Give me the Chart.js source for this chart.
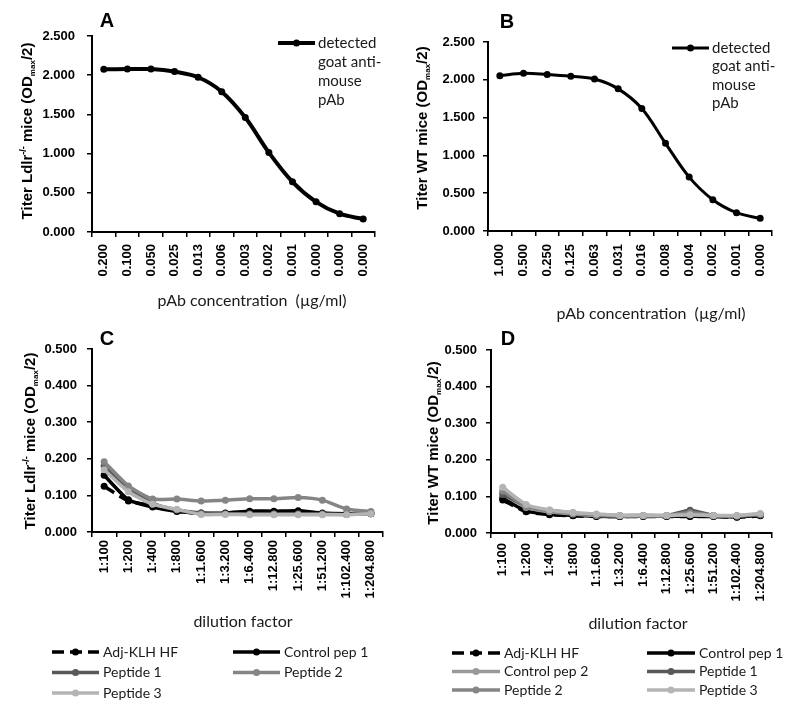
<!DOCTYPE html>
<html>
<head>
<meta charset="utf-8">
<script src="https://cdn.jsdelivr.net/npm/chart.js@4.4.1/dist/chart.umd.min.js"></script>
<style>
  body { margin: 0; background: #fff; }
  .panel { position: absolute; }
</style>
</head>
<body>
<div class="panel" style="left:0;top:0;width:400px;height:330px"><canvas id="chartA"></canvas></div>
<div class="panel" style="left:400px;top:0;width:400px;height:330px"><canvas id="chartB"></canvas></div>
<div class="panel" style="left:0;top:320px;width:400px;height:393px"><canvas id="chartC"></canvas></div>
<div class="panel" style="left:400px;top:320px;width:400px;height:393px"><canvas id="chartD"></canvas></div>
<script>
// --- data ---
const concA = ['0.200', '0.100', '0.050', '0.025', '0.013', '0.006', '0.003', '0.002', '0.001', '0.000', '0.000', '0.000'];
const concB = ['1.000', '0.500', '0.250', '0.125', '0.063', '0.031', '0.016', '0.008', '0.004', '0.002', '0.001', '0.000'];
const dilutions = ['1:100', '1:200', '1:400', '1:800', '1:1.600', '1:3.200', '1:6.400', '1:12.800', '1:25.600', '1:51.200', '1:102.400', '1:204.800'];

const titerA = [2.075, 2.078, 2.078, 2.046, 1.974, 1.79, 1.46, 1.014, 0.64, 0.385, 0.233, 0.166];
const titerB = [2.055, 2.086, 2.07, 2.046, 2.01, 1.88, 1.62, 1.16, 0.713, 0.414, 0.242, 0.167];

// panel C (Ldlr-/-)
const cAdj   = [0.125, 0.085, 0.072, 0.058, 0.050, 0.050, 0.050, 0.050, 0.050, 0.050, 0.050, 0.050];
const cCtrl1 = [0.155, 0.088, 0.068, 0.056, 0.052, 0.052, 0.057, 0.057, 0.058, 0.052, 0.050, 0.050];
const cPep1  = [0.180, 0.118, 0.078, 0.060, 0.052, 0.050, 0.050, 0.050, 0.050, 0.050, 0.048, 0.052];
const cPep2  = [0.192, 0.126, 0.090, 0.090, 0.085, 0.087, 0.091, 0.091, 0.094, 0.087, 0.063, 0.056];
const cPep3  = [0.170, 0.110, 0.076, 0.062, 0.048, 0.048, 0.047, 0.047, 0.047, 0.047, 0.047, 0.050];

// panel D (WT)
const dAdj   = [0.090, 0.058, 0.050, 0.047, 0.045, 0.045, 0.045, 0.045, 0.045, 0.045, 0.043, 0.047];
const dCtrl1 = [0.095, 0.060, 0.052, 0.048, 0.046, 0.045, 0.046, 0.046, 0.046, 0.046, 0.044, 0.048];
const dCtrl2 = [0.110, 0.070, 0.058, 0.052, 0.048, 0.047, 0.047, 0.047, 0.050, 0.047, 0.047, 0.050];
const dPep1  = [0.105, 0.075, 0.062, 0.055, 0.050, 0.048, 0.048, 0.048, 0.062, 0.048, 0.046, 0.050];
const dPep2  = [0.115, 0.072, 0.060, 0.054, 0.050, 0.047, 0.048, 0.048, 0.055, 0.048, 0.047, 0.052];
const dPep3  = [0.125, 0.078, 0.063, 0.056, 0.052, 0.048, 0.048, 0.048, 0.050, 0.048, 0.048, 0.053];

const titleLdlr = [['Titer Ldlr', 0], ['-/-', 1], [' mice (OD', 0], ['max', -1], ['/2)', 0]];
const titleWT = [['Titer WT mice (OD', 0], ['max', -1], ['/2)', 0]];

const ARIAL = '"Liberation Sans", Arial, sans-serif';
const CALIBRI = 'Lato, "Open Sans", sans-serif';
Chart.defaults.font.family = ARIAL;

// letters, axis titles and legend drawn on the canvas
const panelDecor = {
    id: 'panelDecor',
    afterDraw(chart, args, o) {
        const ctx = chart.ctx;
        ctx.save();
        ctx.fillStyle = '#000';
        ctx.textBaseline = 'middle';
        ctx.textAlign = 'center';
        ctx.font = 'bold 20px ' + ARIAL;
        ctx.fillText(o.letter, o.letterX, o.letterY);

        ctx.font = '16px ' + CALIBRI;
        ctx.fillStyle = '#1a1a1a';
        ctx.fillText(o.xTitle, o.xTitleX, o.xTitleY);

        // rotated y title with sub/superscripts
        const fonts = { 0: 'bold 15px ' + ARIAL, 1: 'bold 9px ' + ARIAL, '-1': 'bold 8px ' + ARIAL };
        let total = 0;
        o.yTitle.forEach(([t, k]) => { ctx.font = fonts[k]; total += ctx.measureText(t).width; });
        ctx.translate(o.yTitleX, o.yTitleY);
        ctx.rotate(-Math.PI / 2);
        ctx.textAlign = 'left';
        ctx.textBaseline = 'alphabetic';
        ctx.fillStyle = '#000';
        let x = -total / 2;
        o.yTitle.forEach(([t, k]) => {
            ctx.font = fonts[k];
            const dy = k === 1 ? -1 : (k === -1 ? 8 : 5);
            ctx.fillText(t, x, dy);
            x += ctx.measureText(t).width;
        });
        ctx.setTransform(1, 0, 0, 1, 0, 0);

        // legend
        const L = o.legend;
        ctx.font = L.font;
        ctx.textBaseline = 'middle';
        ctx.textAlign = 'left';
        chart.data.datasets.forEach((ds, i) => {
            const col = i % L.cols, row = Math.floor(i / L.cols);
            const lx = L.x[col], ly = L.y + row * L.rowH;
            ctx.strokeStyle = ds.borderColor;
            ctx.lineWidth = ds.borderWidth;
            ctx.setLineDash(ds.borderDash || []);
            ctx.beginPath();
            ctx.moveTo(lx, ly);
            ctx.lineTo(lx + L.symW, ly);
            ctx.stroke();
            ctx.setLineDash([]);
            ctx.fillStyle = ds.pointBackgroundColor;
            ctx.beginPath();
            ctx.arc(lx + L.symW / 2, ly, ds.pointRadius, 0, Math.PI * 2);
            ctx.fill();
            ctx.fillStyle = '#1a1a1a';
            const lines = Array.isArray(ds.label) ? ds.label : [ds.label];
            lines.forEach((t, j) => ctx.fillText(t, lx + L.symW + L.gap, ly + j * L.lineH));
        });
        ctx.restore();
    }
};

function series(label, data, color, width, dash, n, i, tension) {
    return {
        label, data,
        borderColor: color, backgroundColor: color,
        pointBackgroundColor: color, pointBorderColor: color,
        borderWidth: width, borderDash: dash,
        pointRadius: 3.5, pointBorderWidth: 0,
        tension: tension, order: n - i
    };
}

function buildChart(id, labels, datasets, cfg) {
    return new Chart(document.getElementById(id), {
        type: 'line',
        data: { labels, datasets },
        plugins: [panelDecor],
        options: {
            responsive: true,
            maintainAspectRatio: false,
            animation: false,
            layout: { padding: { left: 0, top: cfg.top, right: cfg.right, bottom: cfg.bottom } },
            plugins: { legend: { display: false }, tooltip: { enabled: false }, panelDecor: cfg.decor },
            scales: {
                x: {
                    offset: true,
                    grid: { offset: true, drawOnChartArea: false, color: '#000', lineWidth: 1.5, tickLength: 5 },
                    border: { color: '#000', width: 2 },
                    ticks: { color: '#000', font: { weight: 'bold', size: 13 }, minRotation: 90, maxRotation: 90, autoSkip: false, padding: cfg.xPad },
                    afterFit: s => { s.height = cfg.xH; }
                },
                y: {
                    min: 0, max: cfg.yMax,
                    grid: { drawOnChartArea: false, color: '#000', lineWidth: 1.5, tickLength: 5 },
                    border: { color: '#000', width: 2 },
                    ticks: { stepSize: cfg.yStep, color: '#000', font: { weight: 'bold', size: 13 }, padding: cfg.yPad, callback: v => v.toFixed(3) },
                    afterFit: s => { s.width = cfg.yW; }
                }
            }
        }
    });
}

const abLabel = ['detected', 'goat anti-', 'mouse', 'pAb'];

buildChart('chartA', concA, [series(abLabel, titerA, '#000', 4, [], 1, 0, 0.35)], {
    top: 36, right: 25, bottom: 0, xH: 98, yW: 92, xPad: 7, yPad: 12, yMax: 2.5, yStep: 0.5,
    decor: {
        letter: 'A', letterX: 107, letterY: 21,
        xTitle: 'pAb concentration  (µg/ml)', xTitleX: 252, xTitleY: 301,
        yTitle: titleLdlr, yTitleX: 27, yTitleY: 131,
        legend: { cols: 1, x: [278], y: 43, rowH: 20, symW: 37, gap: 3, lineH: 19, font: '15px ' + CALIBRI }
    }
});

buildChart('chartB', concB, [series(abLabel, titerB, '#000', 3, [], 1, 0, 0.35)], {
    top: 42, right: 28, bottom: 0, xH: 99, yW: 88, xPad: 8, yPad: 8, yMax: 2.5, yStep: 0.5,
    decor: {
        letter: 'B', letterX: 107, letterY: 22,
        xTitle: 'pAb concentration  (µg/ml)', xTitleX: 251, xTitleY: 314,
        yTitle: titleWT, yTitleX: 22, yTitleY: 128,
        legend: { cols: 1, x: [272], y: 48, rowH: 20, symW: 37, gap: 3, lineH: 18.5, font: '15px ' + CALIBRI }
    }
});

const cNames = ['Adj-KLH HF', 'Control pep 1', 'Peptide 1', 'Peptide 2', 'Peptide 3'];
const cColors = ['#000', '#000', '#595959', '#858585', '#b4b4b4'];
const cData = [cAdj, cCtrl1, cPep1, cPep2, cPep3];
buildChart('chartC', dilutions, cData.map((d, i) => series(cNames[i], d, cColors[i], 3.5, i === 0 ? [12, 6] : [], cData.length, i, 0.2)), {
    top: 29, right: 17, bottom: 81, xH: 100, yW: 92, xPad: 3, yPad: 10, yMax: 0.5, yStep: 0.1,
    decor: {
        letter: 'C', letterX: 107, letterY: 19,
        xTitle: 'dilution factor', xTitleX: 243, xTitleY: 302,
        yTitle: titleLdlr, yTitleX: 30, yTitleY: 121,
        legend: { cols: 2, x: [52, 233], y: 332, rowH: 20.5, symW: 47, gap: 4, lineH: 18, font: '14px ' + CALIBRI }
    }
});

const dNames = ['Adj-KLH HF', 'Control pep 1', 'Control pep 2', 'Peptide 1', 'Peptide 2', 'Peptide 3'];
const dColors = ['#000', '#000', '#9a9a9a', '#595959', '#858585', '#b4b4b4'];
const dData = [dAdj, dCtrl1, dCtrl2, dPep1, dPep2, dPep3];
buildChart('chartD', dilutions, dData.map((d, i) => series(dNames[i], d, dColors[i], 3.5, i === 0 ? [12, 6] : [], dData.length, i, 0.2)), {
    top: 30, right: 28, bottom: 80, xH: 100, yW: 91, xPad: 5, yPad: 9, yMax: 0.5, yStep: 0.1,
    decor: {
        letter: 'D', letterX: 108, letterY: 19,
        xTitle: 'dilution factor', xTitleX: 238, xTitleY: 304,
        yTitle: titleWT, yTitleX: 33, yTitleY: 123,
        legend: { cols: 2, x: [52, 247], y: 333, rowH: 18.5, symW: 48, gap: 4, lineH: 18, font: '14px ' + CALIBRI }
    }
});
</script>
</body>
</html>
